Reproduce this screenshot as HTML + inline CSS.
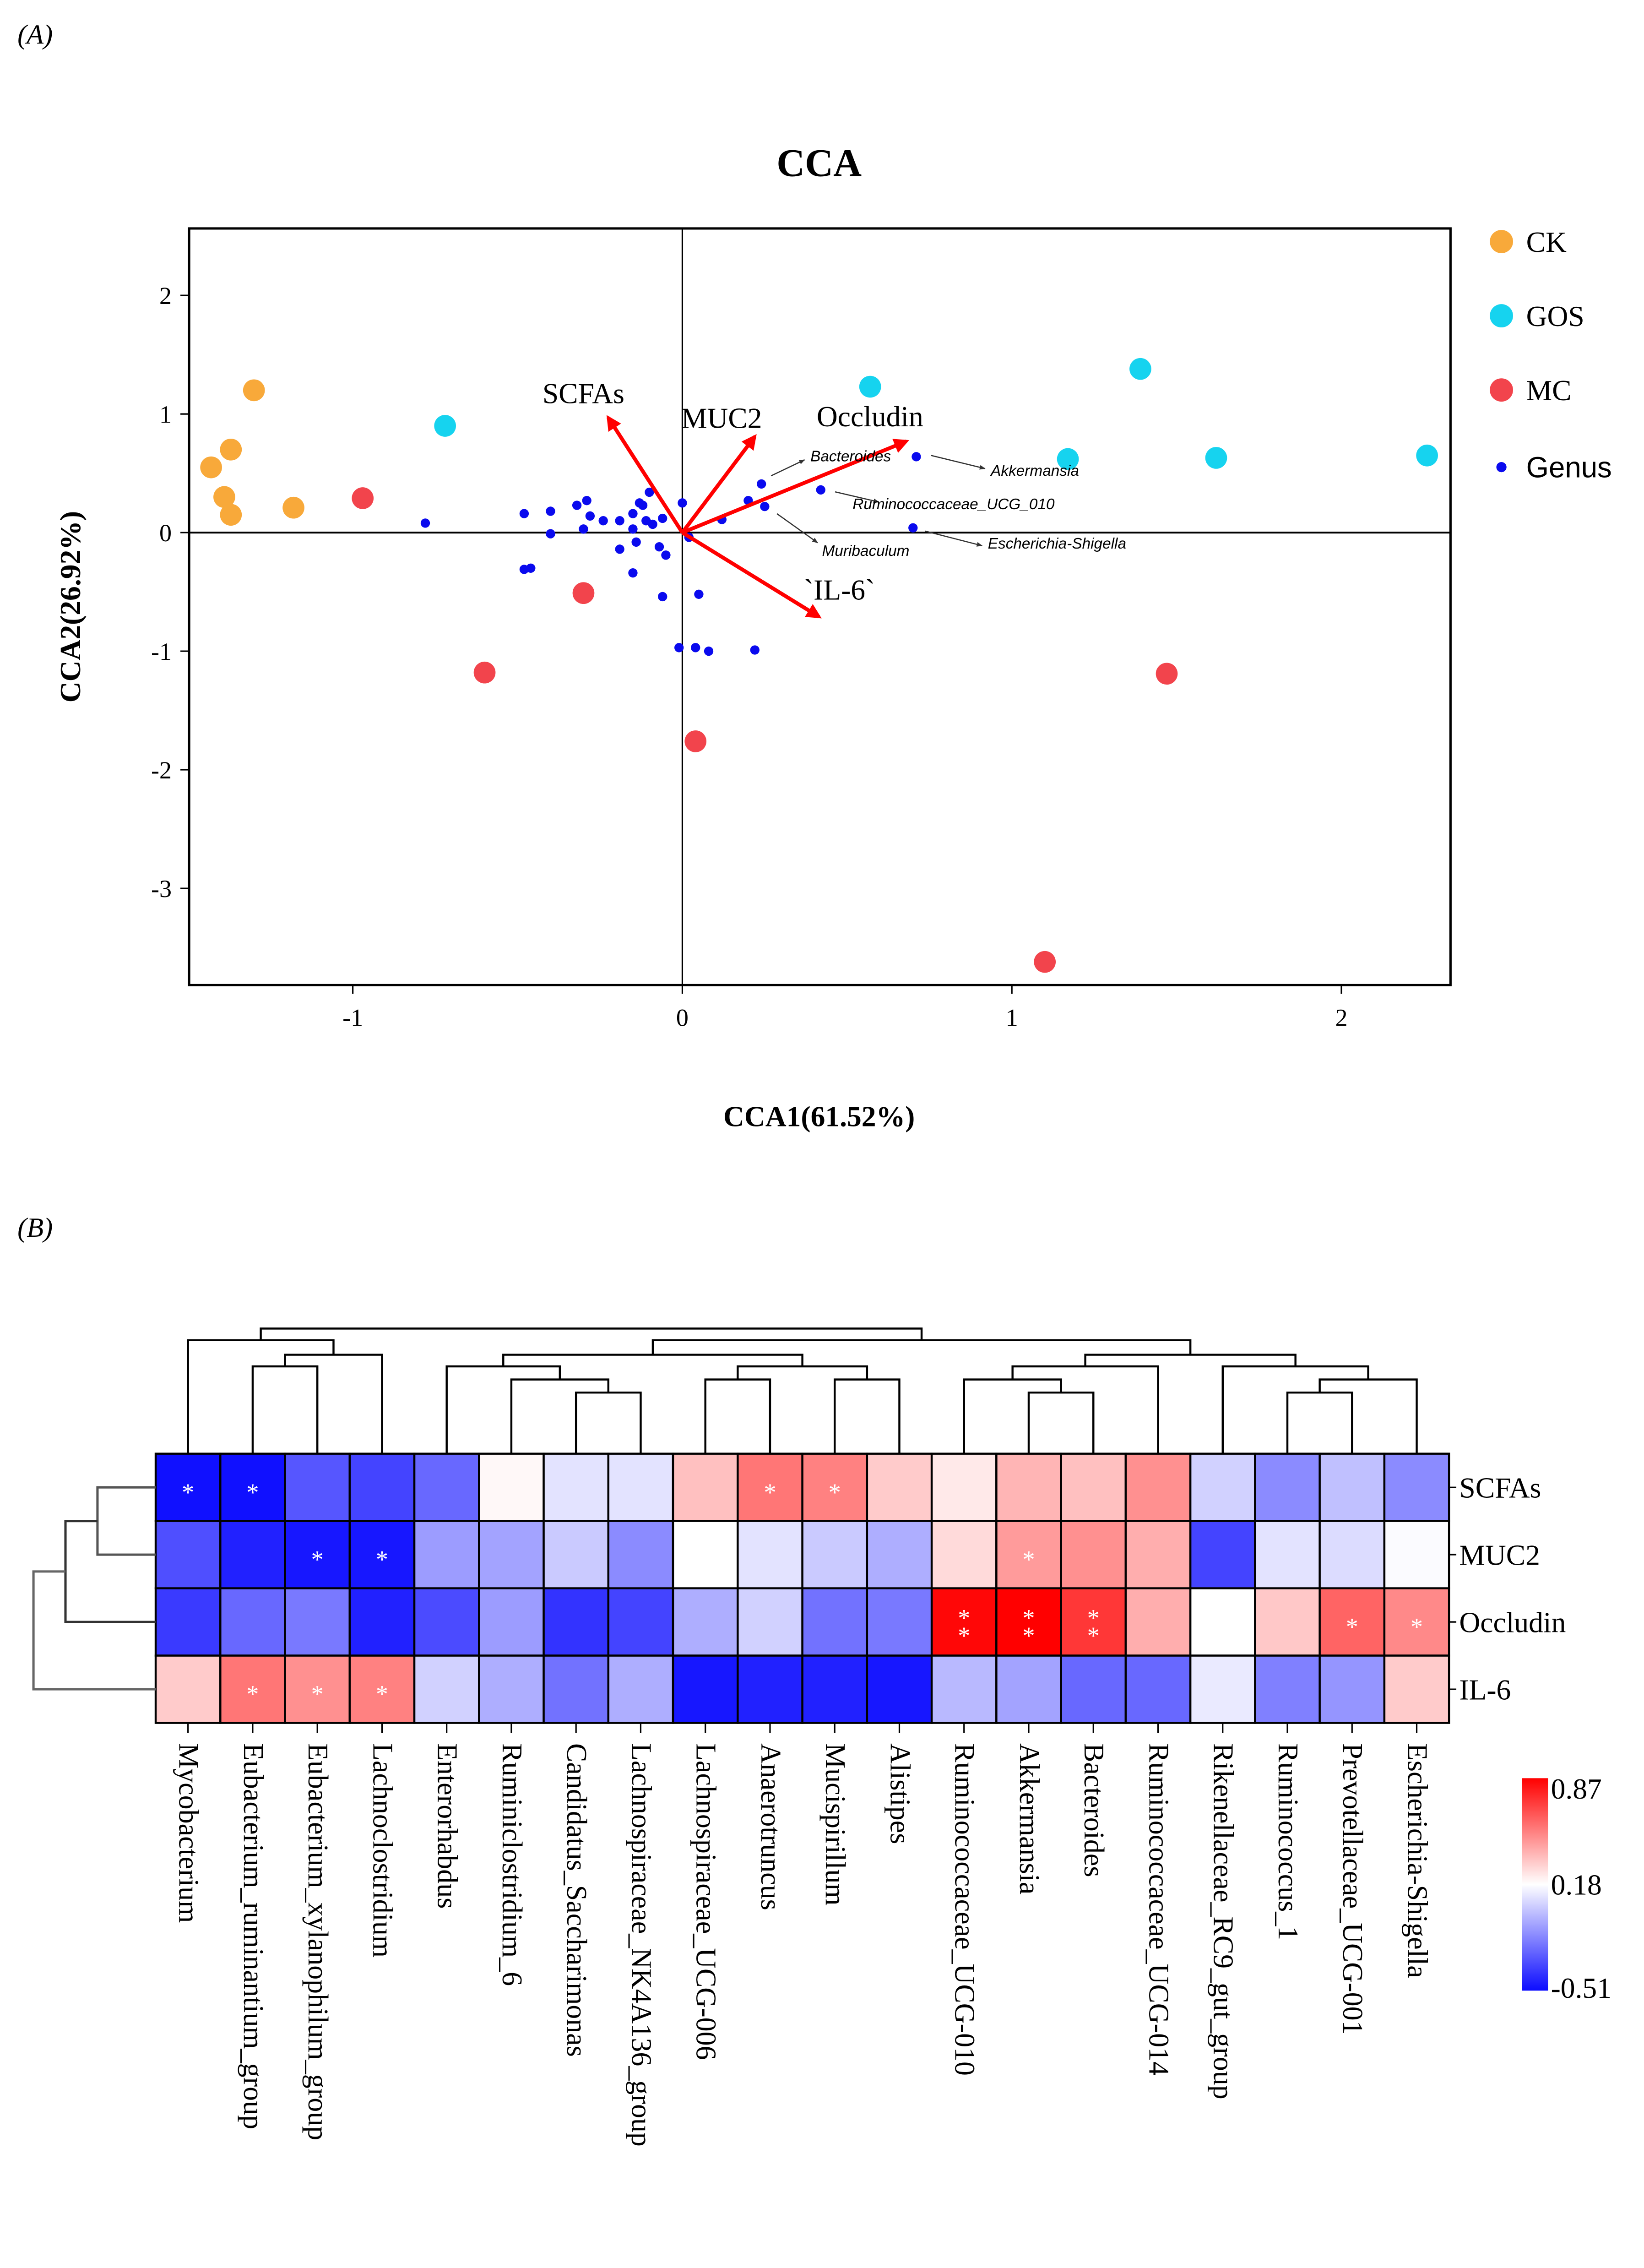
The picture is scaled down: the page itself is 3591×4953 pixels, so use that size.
<!DOCTYPE html>
<html><head><meta charset="utf-8"><style>
html,body{margin:0;padding:0;background:#fff;}
svg{display:block;}
text{font-family:"Liberation Serif",serif;}
text.sans{font-family:"Liberation Sans",sans-serif;}
</style></head><body>
<svg id="fig" width="3591" height="4953" viewBox="0 0 1130 1558.6" preserveAspectRatio="none" xmlns="http://www.w3.org/2000/svg">
<defs>
<marker id="ah" viewBox="0 0 10 10" refX="8" refY="5" markerWidth="4" markerHeight="4" orient="auto"><path d="M0,0 L10,5 L0,10 z" fill="#f00"/></marker>
<marker id="sa" viewBox="0 0 10 10" refX="9" refY="5" markerWidth="5" markerHeight="5" orient="auto"><path d="M0,1 L10,5 L0,9 z" fill="#333"/></marker>
</defs>
<text x="12" y="30" font-size="19" font-style="italic">(A)</text>
<text x="12" y="850" font-size="19" font-style="italic">(B)</text>
<text x="563" y="121" font-size="27" font-weight="bold" text-anchor="middle">CCA</text>
<text x="563" y="774" font-size="20" font-weight="bold" text-anchor="middle">CCA1(61.52%)</text>
<text transform="translate(55,417) rotate(-90)" font-size="20" font-weight="bold" text-anchor="middle">CCA2(26.92%)</text>
<g id="cca"></g>
<g id="legend"></g>
<g id="heat"></g>
</svg>
<script>
const NS="http://www.w3.org/2000/svg";
function mk(p,t,a){const e=document.createElementNS(NS,t);for(const k in a)e.setAttribute(k,a[k]);p.appendChild(e);return e;}
// ---- CCA data ----
const ckX=[-1.43,-1.37,-1.30,-1.39,-1.37,-1.18];
const ckY=[0.55,0.70,1.20,0.30,0.15,0.21];
const gosX=[-0.72,0.57,1.17,1.39,1.62,2.26];
const gosY=[0.90,1.23,0.62,1.38,0.63,0.65];
const mcX=[-0.97,-0.30,-0.60,0.04,1.47,1.10];
const mcY=[0.29,-0.51,-1.18,-1.76,-1.19,-3.62];
const genusX=[-0.78,-0.48,-0.40,-0.40,-0.32,-0.29,-0.28,-0.30,-0.24,-0.19,-0.15,-0.13,-0.12,-0.10,-0.11,-0.09,-0.06,-0.15,-0.19,-0.14,-0.07,-0.05,-0.15,-0.48,-0.46,-0.06,0.05,0.00,0.02,0.12,0.20,0.24,0.25,0.42,0.71,0.70,-0.01,0.04,0.08,0.22];
const genusY=[0.08,0.16,0.18,-0.01,0.23,0.27,0.14,0.03,0.10,0.10,0.16,0.25,0.23,0.34,0.10,0.07,0.12,0.03,-0.14,-0.08,-0.12,-0.19,-0.34,-0.31,-0.30,-0.54,-0.52,0.25,-0.04,0.11,0.27,0.41,0.22,0.36,0.64,0.04,-0.97,-0.97,-1.00,-0.99];
const envNames=["SCFAs","MUC2","Occludin","`IL-6`"];
const envX=[-0.225,0.22,0.68,0.415];
const envY=[0.97,0.81,0.77,-0.71];
const xTicks=[-1,0,1,2];
const yTicks=[2,1,0,-1,-2,-3];
const X0=469,XS=226.5,Y0=366,YS=81.5;
const sx=v=>X0+v*XS, sy=v=>Y0-v*YS;
const L=130,R=997,T=157,B=677;
const g=document.getElementById('cca');
let e;
e=mk(g,'rect',{x:L,y:T,width:R-L,height:B-T,fill:'none',stroke:'#000','stroke-width':1.6});


e=mk(g,'line',{x1:sx(0),x2:sx(0),y1:T,y2:B,stroke:'#000','stroke-width':1});


e=mk(g,'line',{x1:L,x2:R,y1:sy(0),y2:sy(0),stroke:'#000','stroke-width':1.3});


xTicks.forEach(v=>{mk(g,'line',{x1:sx(v),x2:sx(v),y1:B,y2:B+6,stroke:'#000'});
 e=mk(g,'text',{x:sx(v),y:B+28,'font-size':17,'text-anchor':'middle'});e.textContent=v;
 
 });
yTicks.forEach(v=>{mk(g,'line',{x1:L-6,x2:L,y1:sy(v),y2:sy(v),stroke:'#000'});
 e=mk(g,'text',{x:L-12,y:sy(v)+6,'font-size':17,'text-anchor':'end'});e.textContent=v;
 
 });
genusX.forEach((v,i)=>{e=mk(g,'circle',{cx:sx(v),cy:sy(genusY[i]),r:3.2,fill:'#0a0aee'});
 
 });
function grp(xs,ys,col,nm){xs.forEach((v,i)=>{e=mk(g,'circle',{cx:sx(v),cy:sy(ys[i]),r:7.5,fill:col});
 
 });}
grp(ckX,ckY,'#f8a93a','ck-sample-point');
grp(gosX,gosY,'#16d3ef','gos-sample-point');
grp(mcX,mcY,'#f2444c','mc-sample-point');
const envLx=[401,496,598,577],envLy=[277,294,293,412];
envX.forEach((v,i)=>{e=mk(g,'line',{x1:sx(0),y1:sy(0),x2:sx(v),y2:sy(envY[i]),stroke:'#f00','stroke-width':2.6,'marker-end':'url(#ah)'});
 
 
 e=mk(g,'text',{x:envLx[i],y:envLy[i],'font-size':20,'text-anchor':'middle'});e.textContent=envNames[i];
 
 });
const gl=[["Bacteroides",557,317,530,327,553,316],["Akkermansia",681,327,640,313,677,322],["Ruminococcaceae_UCG_010",586,350,574,338,604,345],["Muribaculum",565,382,534,353,562,373],["Escherichia-Shigella",679,377,636,365,675,375]];
gl.forEach(a=>{mk(g,'line',{x1:a[3],y1:a[4],x2:a[5],y2:a[6],stroke:'#333','stroke-width':0.8,'marker-end':'url(#sa)'});
 e=mk(g,'text',{x:a[1],y:a[2],'font-size':10.5,'font-style':'italic','class':'sans'});e.textContent=a[0];
 
 });
// legend
const lg=document.getElementById('legend');
[["CK",'#f8a93a',166,8],["GOS",'#16d3ef',217,8],["MC",'#f2444c',268,8],["Genus",'#0a0aee',321,3.5]].forEach(a=>{
 e=mk(lg,'circle',{cx:1032,cy:a[2],r:a[3],fill:a[1]});
 
 
 e=mk(lg,'text',{x:1049,y:a[2]+7,'font-size':20});e.textContent=a[0];
 if(a[0]=='Genus')e.setAttribute('class','sans');
 
 });
// ---- Heatmap data ----
const genera=["Mycobacterium","Eubacterium_ruminantium_group","Eubacterium_xylanophilum_group","Lachnoclostridium","Enterorhabdus","Ruminiclostridium_6","Candidatus_Saccharimonas","Lachnospiraceae_NK4A136_group","Lachnospiraceae_UCG-006","Anaerotruncus","Mucispirillum","Alistipes","Ruminococcaceae_UCG-010","Akkermansia","Bacteroides","Ruminococcaceae_UCG-014","Rikenellaceae_RC9_gut_group","Ruminococcus_1","Prevotellaceae_UCG-001","Escherichia-Shigella"];
const factors=["SCFAs","MUC2","Occludin","IL-6"];
const valSCFAs=[-0.50,-0.50,-0.30,-0.35,-0.25,0.20,0.10,0.10,0.35,0.55,0.52,0.32,0.24,0.38,0.35,0.48,0.05,-0.15,0.0,-0.15];
const valMUC2=[-0.32,-0.45,-0.48,-0.48,-0.10,-0.08,0.03,-0.15,0.18,0.10,0.03,-0.05,0.28,0.45,0.48,0.40,-0.35,0.10,0.08,0.17];
const valOccludin=[-0.38,-0.25,-0.20,-0.45,-0.33,-0.10,-0.40,-0.35,-0.05,0.05,-0.22,-0.20,0.85,0.87,0.72,0.40,0.18,0.33,0.60,0.50];
const valIL6=[0.32,0.55,0.48,0.52,0.05,-0.05,-0.22,-0.05,-0.48,-0.45,-0.45,-0.48,-0.02,-0.08,-0.25,-0.25,0.12,-0.18,-0.12,0.32];
const sigSCFAs=["*","*","","","","","","","","*","*","","","","","","","","",""];
const sigMUC2=["","","*","*","","","","","","","","","","*","","","","","",""];
const sigOccludin=["","","","","","","","","","","","","**","**","**","","","","*","*"];
const sigIL6=["","*","*","*","","","","","","","","","","","","","","","",""];
const vals=[valSCFAs,valMUC2,valOccludin,valIL6];
const sigs=[sigSCFAs,sigMUC2,sigOccludin,sigIL6];
const cMin=-0.51,cMid=0.18,cMax=0.87;
function col(v){if(v<cMid){const t=Math.min(1,(cMid-v)/(cMid-cMin));const c=Math.round(255*(1-t)+12*t);return `rgb(${c},${c},255)`;}
 const t=Math.min(1,(v-cMid)/(cMax-cMid));const c=Math.round(255*(1-t));return `rgb(255,${c},${c})`;}
const HL=107,HR=996,HT=999,HB=1184;
const cw=(HR-HL)/genera.length,rh=(HB-HT)/factors.length;
const cx=i=>HL+cw*(i+0.5), ry=j=>HT+rh*(j+0.5);
const h=document.getElementById('heat');
vals.forEach((row,j)=>row.forEach((v,i)=>{
 e=mk(h,'rect',{x:HL+cw*i,y:HT+rh*j,width:cw,height:rh,fill:col(v),stroke:'#000','stroke-width':1.4});
 
 
 const s=sigs[j][i];
 if(s==="*"){e=mk(h,'text',{x:cx(i),y:ry(j)+9,'font-size':17,fill:'#fff','text-anchor':'middle'});e.textContent='*';
  
  }
 else if(s==="**"){[-6,6].forEach(d=>{e=mk(h,'text',{x:cx(i),y:ry(j)+9+d,'font-size':17,fill:'#fff','text-anchor':'middle'});e.textContent='*';
  
  });}
}));
factors.forEach((f,j)=>{mk(h,'line',{x1:HR,x2:HR+5,y1:ry(j),y2:ry(j),stroke:'#000'});
 e=mk(h,'text',{x:HR+7,y:ry(j)+7,'font-size':20});e.textContent=f;
 
 });
genera.forEach((n,i)=>{mk(h,'line',{x1:cx(i),x2:cx(i),y1:HB,y2:HB+7,stroke:'#000'});
 e=mk(h,'text',{transform:`translate(${cx(i)-6},${HB+14}) rotate(90)`,'font-size':19.5});e.textContent=n;
 
 });
// dendrogram (top)
const yL=[913,921,931,939,948,957];
function node(a,b,lv){return {x:(a.x+b.x)/2,y:yL[lv],a,b};}
const lf=i=>({x:cx(i),y:HT});
function draw(n){if(!n.a)return;
 mk(h,'path',{d:`M${n.a.x},${n.a.y}V${n.y}H${n.b.x}V${n.b.y}`,fill:'none',stroke:'#000','stroke-width':1.4});draw(n.a);draw(n.b);}
const n12=node(lf(1),lf(2),3),n123=node(n12,lf(3),2),left=node(lf(0),n123,1);
const n67=node(lf(6),lf(7),5),n567=node(lf(5),n67,4),n4=node(lf(4),n567,3);
const n89=node(lf(8),lf(9),4),n1011=node(lf(10),lf(11),4),n811=node(n89,n1011,3),m1=node(n4,n811,2);
const n1314=node(lf(13),lf(14),5),n12b=node(lf(12),n1314,4),n15=node(n12b,lf(15),3);
const n1718=node(lf(17),lf(18),5),n19=node(n1718,lf(19),4),n16=node(lf(16),n19,3),m2=node(n15,n16,2);
const right=node(m1,m2,1),root=node(left,right,0);
draw(root);
// row dendrogram
function drawR(a,b,x,c){mk(h,'path',{d:`M${a.x},${a.y}H${x}V${b.y}H${b.x}`,fill:'none',stroke:c,'stroke-width':1.6});return {x,y:(a.y+b.y)/2};}
const rl=j=>({x:HL,y:ry(j)});
const r1=drawR(rl(0),rl(1),67,'#555'),r2=drawR(r1,rl(2),45,'#333'),r3=drawR(r2,rl(3),23,'#666');
// colorbar
const gr=mk(document.querySelector('defs'),'linearGradient',{id:'cb',x1:0,y1:1,x2:0,y2:0});
mk(gr,'stop',{offset:0,'stop-color':'rgb(12,12,255)'});mk(gr,'stop',{offset:0.5,'stop-color':'#fff'});mk(gr,'stop',{offset:1,'stop-color':'#f00'});
e=mk(h,'rect',{x:1046,y:1222,width:18,height:146,fill:'url(#cb)'});


[["0.87",1236],["0.18",1302],["-0.51",1373]].forEach(a=>{e=mk(h,'text',{x:1066,y:a[1],'font-size':20});e.textContent=a[0];
 
 });
</script>
</body></html>
